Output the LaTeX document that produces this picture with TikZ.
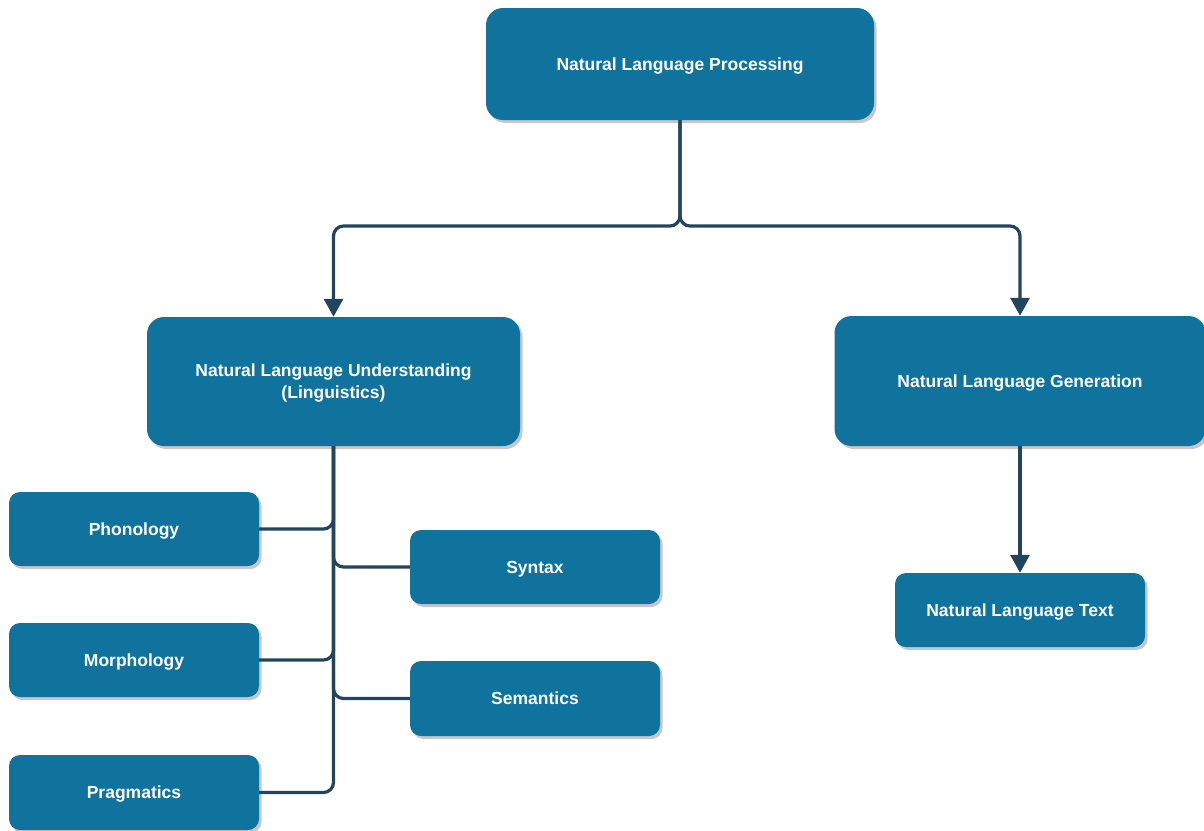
\documentclass[tikz,border=0pt]{standalone}
\usepackage{fontspec}
\setmainfont{Liberation Sans}
\usetikzlibrary{arrows.meta,shadows}
\definecolor{boxfill}{HTML}{10739E}
\definecolor{linkline}{HTML}{23445D}
\begin{document}
\begin{tikzpicture}[x=1pt,y=-1pt,
  box/.style={fill=boxfill, text=white, align=center, inner sep=0pt,
    font=\bfseries\fontsize{17.5}{22}\selectfont, text depth=0pt,
    drop shadow={shadow xshift=2.5pt, shadow yshift=-3pt, fill=black, opacity=0.22}},
  bigbox/.style={box, rounded corners=17pt},
  smallbox/.style={box, rounded corners=11pt, minimum width=250pt, minimum height=74pt},
  link/.style={draw=linkline, line width=3.2pt, rounded corners=10pt},
  arrowlink/.style={link, -{Triangle[width=19pt,length=18pt]}}
]
\useasboundingbox (0,0) rectangle (1204,830);
\clip (0,0) rectangle (1204,830);

% main boxes
\node[bigbox, minimum width=388pt, minimum height=112pt] (nlp) at (680,64) {Natural Language Processing};
\node[bigbox, minimum width=373pt, minimum height=129pt] (nlu) at (333.5,381.5) {Natural Language Understanding\\(Linguistics)};
\node[bigbox, minimum width=371pt, minimum height=130pt] (nlg) at (1020,381) {Natural Language Generation};
\node[smallbox] (nlt) at (1020,610) {Natural Language Text};

% linguistic levels
\node[smallbox] (phon) at (134,529) {Phonology};
\node[smallbox] (morph) at (134,660) {Morphology};
\node[smallbox, minimum height=75pt] (prag) at (134,792.5) {Pragmatics};
\node[smallbox] (syn) at (535,567) {Syntax};
\node[smallbox, minimum height=75pt] (sem) at (535,698.5) {Semantics};

% top split
\coordinate (split) at (680,226);
\draw[arrowlink] (nlp.south) -- (split) -| (nlu.north);
\draw[arrowlink] (nlp.south) -- (split) -| (nlg.north);
\draw[arrowlink] (nlg.south) -- (nlt.north);

% understanding tree
\draw[link] (nlu.south) |- (phon.east);
\draw[link] (nlu.south) |- (morph.east);
\draw[link] (nlu.south) |- (prag.east);
\draw[link] (nlu.south) |- (syn.west);
\draw[link] (nlu.south) |- (sem.west);
\end{tikzpicture}
\end{document}
